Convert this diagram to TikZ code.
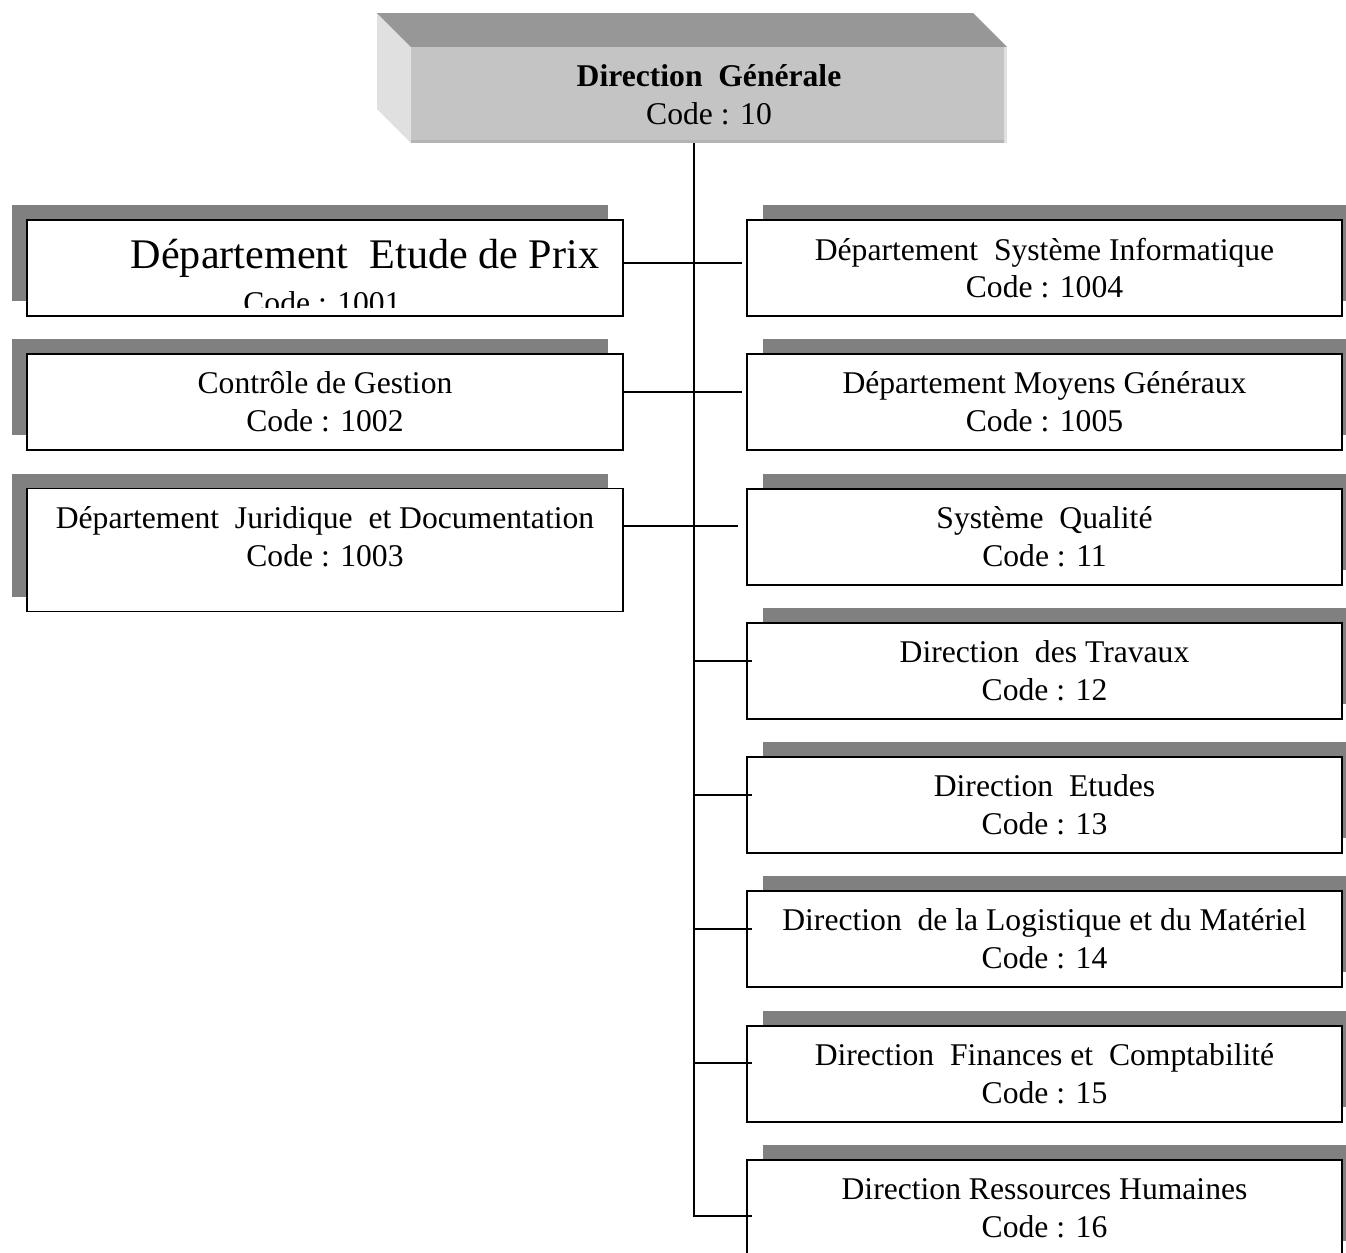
\documentclass[tikz,border=0pt]{standalone}
\usepackage{fontspec}
\setmainfont{Liberation Serif}
\usepackage{tikz}
\usetikzlibrary{calc,shadows}
\definecolor{ombre}{HTML}{808080}
\definecolor{dessus}{HTML}{979797}
\definecolor{face}{HTML}{C4C4C4}
\definecolor{cote}{HTML}{E0E0E0}
\definecolor{arete}{HTML}{B4B4B4}
\tikzset{
  texte/.style={font=\fontsize{18}{21.5}\selectfont},
  unite/.style={draw, line width=1.1pt, fill=white, minimum width=11.92cm, minimum height=1.92cm,
    inner sep=0pt, align=center, texte},
  gauche/.style={unite, drop shadow={shadow xshift=-0.3cm, shadow yshift=0.3cm, fill=ombre, opacity=1}},
  droite/.style={unite, drop shadow={shadow xshift=0.32cm, shadow yshift=0.3cm, fill=ombre, opacity=1}},
  lien/.style={line width=1pt}
}

\begin{document}
\begin{tikzpicture}[x=0.02cm, y=-0.02cm]
\useasboundingbox (0,0) rectangle (1346,1252);
\fill[cote] (377,13) -- (411,47) -- (411,143) -- (377,109) -- cycle;
\fill[dessus] (377,13) -- (973,13) -- (1007,47) -- (411,47) -- cycle;
\node[fill=face, minimum width=11.92cm, minimum height=1.92cm, inner sep=0pt, align=center, texte] (dg) at (709,95)
  {\textbf{Direction\ \ Générale}\\Code : 10};
\draw[arete, line width=1.8pt] ([yshift=0.9pt]dg.south west) -- ([yshift=0.9pt]dg.south east);
\draw[cote, line width=2pt] ([xshift=-1pt]dg.north east) -- ([xshift=-1pt]dg.south east);

\node[gauche] (p1001) at (325,268) {};
\node[gauche] (p1002) at (325,402) {Contrôle de Gestion\\Code : 1002};
\node[gauche, minimum height=2.46cm] (p1003) at (325,550) {};
\node[align=center, texte] (t1003) at (325,537) {Département\ \ Juridique\ \ et Documentation\\Code : 1003};
\node[anchor=base, font=\fontsize{24}{28}\selectfont] (t1001) at (365,268) {Département\ \ Etude de Prix};
\begin{scope}
\clip (27,220) rectangle (623,307);
\node[anchor=base, texte] (c1001) at (322,313) {Code : 1001};
\end{scope}

\node[droite] (p1004) at (1044.5,268) {Département\ \ Système Informatique\\Code : 1004};
\node[droite] (p1005) at (1044.5,402) {Département Moyens Généraux\\Code : 1005};
\node[droite] (p11) at (1044.5,537) {Système\ \ Qualité\\Code : 11};
\node[droite] (p12) at (1044.5,671) {Direction\ \ des Travaux\\Code : 12};
\node[droite] (p13) at (1044.5,805) {Direction\ \ Etudes\\Code : 13};
\node[droite] (p14) at (1044.5,939) {Direction\ \ de la Logistique et du Matériel\\Code : 14};
\node[droite] (p15) at (1044.5,1074) {Direction\ \ Finances et\ \ Comptabilité\\Code : 15};
\node[droite] (p16) at (1044.5,1208) {Direction Ressources Humaines\\Code : 16};

\coordinate (h1) at (742,263);
\coordinate (h2) at (742,392);
\coordinate (h3) at (738,526);
\coordinate (s12) at (752,661);
\coordinate (s13) at (752,795);
\coordinate (s14) at (752,929);
\coordinate (s15) at (752,1063);
\coordinate (s16) at (752,1216);
\coordinate (bas) at (694,1216);

\draw[lien] (p1001.east |- h1) -- (h1);
\draw[lien] (p1002.east |- h2) -- (h2);
\draw[lien] (p1003.east |- h3) -- (h3);
\draw[lien] (dg.south -| bas) -- (bas) -- (s16);
\draw[lien] (bas |- s12) -- (s12);
\draw[lien] (bas |- s13) -- (s13);
\draw[lien] (bas |- s14) -- (s14);
\draw[lien] (bas |- s15) -- (s15);
\end{tikzpicture}
\end{document}
